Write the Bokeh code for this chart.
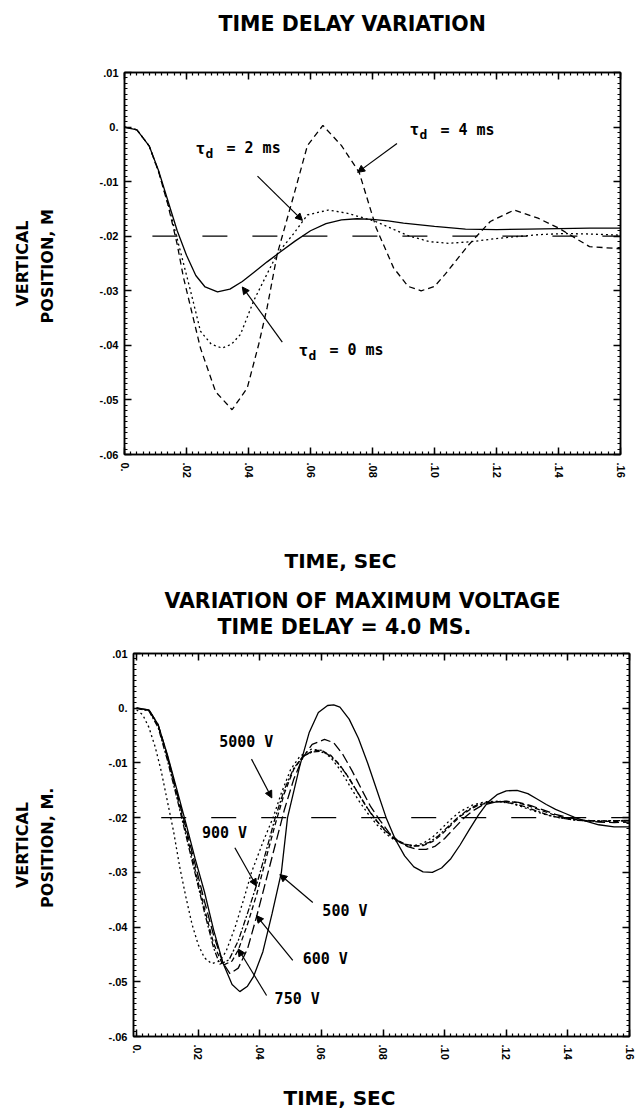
import math
from bokeh.plotting import figure
from bokeh.layouts import column
from bokeh.models import Range1d, FixedTicker, LinearAxis, Title, Label, Arrow, NormalHead
from bokeh.embed import file_html
from bokeh.resources import INLINE

# ---------------- top chart: time delay variation ----------------
td0_t = [0, 0.004, 0.008, 0.011, 0.014, 0.017, 0.020, 0.023, 0.026, 0.030, 0.034, 0.038,
         0.042, 0.046, 0.050, 0.055, 0.060, 0.065, 0.070, 0.075, 0.080, 0.085, 0.090, 0.100,
         0.110, 0.120, 0.130, 0.140, 0.150, 0.160]
td0_v = [0, -0.0005, -0.0035, -0.008, -0.0135, -0.019, -0.0235, -0.0272, -0.0293, -0.0302,
         -0.0297, -0.0283, -0.0265, -0.0247, -0.0230, -0.0209, -0.0190, -0.0177, -0.0170,
         -0.0168, -0.0169, -0.0172, -0.0176, -0.0182, -0.0187, -0.0188, -0.0187, -0.0186,
         -0.0185, -0.0185]

td2_t = [0, 0.004, 0.008, 0.011, 0.014, 0.017, 0.0213, 0.0245, 0.028, 0.0315, 0.0345, 0.0374,
         0.0417, 0.046, 0.0493, 0.0546, 0.059, 0.0657, 0.072, 0.081, 0.087, 0.092, 0.0985,
         0.1045, 0.112, 0.119, 0.126, 0.134, 0.142, 0.150, 0.160]
td2_v = [0, -0.0005, -0.0035, -0.0082, -0.0140, -0.0205, -0.0300, -0.0374, -0.0398, -0.0405,
         -0.0398, -0.0380, -0.0318, -0.0269, -0.0232, -0.0195, -0.0161, -0.0152, -0.0158,
         -0.0173, -0.0188, -0.0200, -0.0210, -0.0213, -0.0210, -0.0205, -0.0201, -0.0197,
         -0.0195, -0.0196, -0.0198]

td4_t = [0, 0.004, 0.008, 0.011, 0.014, 0.017, 0.019, 0.0245, 0.0294, 0.0347, 0.0396, 0.0433,
         0.046, 0.0493, 0.0546, 0.059, 0.064, 0.070, 0.0757, 0.0812, 0.0868, 0.0915, 0.0957,
         0.1, 0.1034, 0.111, 0.118, 0.1257, 0.1334, 0.140, 0.150, 0.160]
td4_v = [0, -0.0005, -0.0035, -0.0082, -0.0142, -0.0215, -0.0275, -0.0405, -0.0485, -0.0518,
         -0.0478, -0.0398, -0.0331, -0.0232, -0.0125, -0.0034, 0.0003, -0.0034, -0.0083,
         -0.0185, -0.0258, -0.0292, -0.0300, -0.0292, -0.0270, -0.0216, -0.0173, -0.0152,
         -0.0167, -0.0185, -0.0219, -0.0223]

ref_top_t = [0.009, 0.160]
ref_top_v = [-0.02, -0.02]

# ---------------- bottom chart: variation of maximum voltage ----------------
v500_t = [0, 0.004, 0.007, 0.010, 0.013, 0.016, 0.019, 0.022, 0.025, 0.028, 0.031, 0.0335,
          0.036, 0.038, 0.041, 0.044, 0.047, 0.049, 0.053, 0.056, 0.059, 0.062, 0.064, 0.066,
          0.069, 0.072, 0.075, 0.078, 0.081, 0.084, 0.087, 0.090, 0.093, 0.096, 0.099, 0.102,
          0.105, 0.108, 0.111, 0.114, 0.117, 0.120, 0.1235, 0.127, 0.130, 0.133, 0.136, 0.139,
          0.142, 0.145, 0.150, 0.155, 0.160]
v500_v = [0, -0.0003, -0.003, -0.0085, -0.0147, -0.021, -0.0275, -0.0335, -0.0405, -0.0465,
          -0.0505, -0.0518, -0.0508, -0.0490, -0.0445, -0.0375, -0.0300, -0.0200, -0.0105,
          -0.0045, -0.0008, 0.0005, 0.0006, 0.0002, -0.0020, -0.0055, -0.0100, -0.0150,
          -0.0200, -0.0240, -0.0270, -0.0290, -0.0299, -0.0300, -0.0292, -0.0275, -0.0250,
          -0.0222, -0.0195, -0.0172, -0.0158, -0.0151, -0.0150, -0.0156, -0.0166, -0.0176,
          -0.0185, -0.0192, -0.0199, -0.0205, -0.0213, -0.0217, -0.0217]

v600_t = [0, 0.004, 0.007, 0.010, 0.013, 0.016, 0.019, 0.022, 0.025, 0.028, 0.0303, 0.033,
          0.036, 0.039, 0.042, 0.045, 0.048, 0.051, 0.054, 0.057, 0.061, 0.064, 0.067, 0.070,
          0.073, 0.076, 0.079, 0.082, 0.085, 0.088, 0.091, 0.094, 0.097, 0.100, 0.103, 0.106,
          0.109, 0.112, 0.116, 0.120, 0.124, 0.128, 0.132, 0.136, 0.140, 0.145, 0.150, 0.155,
          0.160]
v600_v = [0, -0.0003, -0.003, -0.0087, -0.0152, -0.0218, -0.0285, -0.0352, -0.0415, -0.0465,
          -0.0485, -0.0475, -0.0440, -0.0380, -0.0315, -0.0250, -0.0185, -0.0130, -0.0090,
          -0.0066, -0.0057, -0.0063, -0.0085, -0.0115, -0.0148, -0.0180, -0.0205, -0.0228,
          -0.0243, -0.0253, -0.0258, -0.0258, -0.0252, -0.0238, -0.0220, -0.0202, -0.0188,
          -0.0178, -0.0172, -0.0170, -0.0172, -0.0178, -0.0186, -0.0194, -0.0200, -0.0205,
          -0.0208, -0.0209, -0.0208]

v750_t = [0, 0.004, 0.007, 0.010, 0.013, 0.016, 0.019, 0.022, 0.025, 0.028, 0.031, 0.033,
          0.036, 0.039, 0.042, 0.045, 0.048, 0.051, 0.054, 0.0575, 0.060, 0.063, 0.066, 0.069,
          0.072, 0.075, 0.078, 0.081, 0.084, 0.087, 0.090, 0.093, 0.096, 0.099, 0.102, 0.105,
          0.108, 0.111, 0.115, 0.119, 0.123, 0.127, 0.131, 0.135, 0.139, 0.144, 0.150, 0.155,
          0.160]
v750_v = [0, -0.0004, -0.0032, -0.009, -0.0157, -0.0225, -0.0295, -0.0365, -0.0430, -0.0470,
          -0.0462, -0.0442, -0.0395, -0.0340, -0.0275, -0.0212, -0.0155, -0.0112, -0.0088,
          -0.0077, -0.0077, -0.0086, -0.0104, -0.0128, -0.0156, -0.0183, -0.0206, -0.0225,
          -0.0239, -0.0248, -0.0252, -0.0251, -0.0244, -0.0231, -0.0214, -0.0198, -0.0186,
          -0.0177, -0.0172, -0.0170, -0.0172, -0.0178, -0.0186, -0.0194, -0.0200, -0.0205,
          -0.0207, -0.0207, -0.0206]

v900_t = [0, 0.004, 0.007, 0.010, 0.013, 0.016, 0.019, 0.022, 0.025, 0.027, 0.030, 0.033,
          0.036, 0.039, 0.042, 0.045, 0.048, 0.051, 0.054, 0.057, 0.0595, 0.062, 0.065, 0.068,
          0.071, 0.074, 0.077, 0.080, 0.083, 0.086, 0.089, 0.092, 0.095, 0.098, 0.101, 0.104,
          0.107, 0.110, 0.114, 0.118, 0.122, 0.126, 0.130, 0.134, 0.138, 0.143, 0.150, 0.160]
v900_v = [0, -0.0005, -0.0035, -0.0095, -0.0162, -0.0232, -0.0302, -0.0372, -0.0438, -0.0468,
          -0.0460, -0.0425, -0.0375, -0.0322, -0.0262, -0.0200, -0.0148, -0.0110, -0.0088,
          -0.0080, -0.0079, -0.0084, -0.0098, -0.0120, -0.0147, -0.0175, -0.0200, -0.0220,
          -0.0236, -0.0247, -0.0252, -0.0251, -0.0245, -0.0233, -0.0217, -0.0201, -0.0188,
          -0.0178, -0.0172, -0.0171, -0.0174, -0.0180, -0.0188, -0.0196, -0.0201, -0.0205,
          -0.0206, -0.0205]

v5000_t = [0, 0.002, 0.004, 0.006, 0.008, 0.010, 0.012, 0.014, 0.016, 0.018, 0.020, 0.022,
           0.0244, 0.027, 0.029, 0.032, 0.035, 0.0373, 0.041, 0.0443, 0.047, 0.050, 0.053,
           0.0567, 0.060, 0.063, 0.066, 0.069, 0.072, 0.075, 0.078, 0.081, 0.084, 0.087, 0.090,
           0.093, 0.096, 0.099, 0.102, 0.105, 0.109, 0.113, 0.117, 0.121, 0.125, 0.129, 0.133,
           0.137, 0.142, 0.150, 0.160]
v5000_v = [-0.0003, -0.0012, -0.0035, -0.007, -0.0115, -0.0170, -0.0225, -0.0290, -0.0345,
           -0.0395, -0.0432, -0.0456, -0.0467, -0.0462, -0.0445, -0.0400, -0.0345, -0.0300,
           -0.0245, -0.0200, -0.0155, -0.0112, -0.0088, -0.0075, -0.0077, -0.0090, -0.0112,
           -0.0140, -0.0168, -0.0192, -0.0213, -0.0230, -0.0242, -0.0249, -0.0251, -0.0247,
           -0.0236, -0.0220, -0.0203, -0.0189, -0.0177, -0.0171, -0.0170, -0.0173, -0.0180,
           -0.0188, -0.0195, -0.0200, -0.0204, -0.0206, -0.0205]

ref_bot_t = [0.008, 0.160]
ref_bot_v = [-0.02, -0.02]

# ---------------- ticks ----------------
x_major = [round(i * 0.02, 2) for i in range(9)]
x_minor = [round(i * 0.002, 3) for i in range(81)]
x_labels = ["0.", ".02", ".04", ".06", ".08", ".10", ".12", ".14", ".16"]
y_major = [round(0.01 - i * 0.01, 2) for i in range(8)]
y_minor = [round(0.01 - i * 0.001, 3) for i in range(71)]
y_labels = [".01", "0.", "-.01", "-.02", "-.03", "-.04", "-.05", "-.06"]

TITLE_FONT = "DejaVu Sans"
TICK_FONT = "Liberation Sans"
ANN_FONT = "DejaVu Sans Mono"


def base_figure(height, left, right, top, bottom, xstart):
    p = figure(width=636, height=height, output_backend="svg", toolbar_location=None,
               x_range=Range1d(xstart, 0.16), y_range=Range1d(-0.06, 0.01),
               min_border_left=left, min_border_right=right,
               min_border_top=top, min_border_bottom=bottom,
               x_axis_type=None, y_axis_type=None)
    p.frame_align = False
    p.grid.visible = False
    p.outline_line_color = "black"
    p.outline_line_width = 1.5
    p.background_fill_color = "white"
    p.border_fill_color = "white"
    return p


def make_title(text, offset, size="20.5px"):
    return Title(text=text, align="left", offset=offset, standoff=0,
                 vertical_align="bottom", text_font=TITLE_FONT, text_font_size=size,
                 text_font_style="bold", text_color="black")


def set_title(t, text, offset, size="20.5px"):
    t.text = text
    t.align = "left"
    t.offset = offset
    t.standoff = 0
    t.vertical_align = "bottom"
    t.text_font = TITLE_FONT
    t.text_font_size = size
    t.text_font_style = "bold"
    t.text_color = "black"


def spacer(p, loc, size):
    # invisible axis (one hidden tick) whose only role is to reserve panel space
    tick = 0.08
    p.add_layout(LinearAxis(ticker=FixedTicker(ticks=[tick]), major_tick_out=size,
                            major_tick_in=0, minor_tick_out=0, minor_tick_in=0,
                            major_label_standoff=0, major_label_overrides={tick: ""},
                            major_label_text_font_size="1px",
                            axis_line_color=None, major_tick_line_color=None,
                            minor_tick_line_color=None), loc)


def add_axes(p, ylabel_inner, ylabel_outer, y_standoff, outer_standoff):
    xt = FixedTicker(ticks=x_major, minor_ticks=x_minor)
    yt = FixedTicker(ticks=y_major, minor_ticks=y_minor)
    xo = {x_major[i]: x_labels[i] for i in range(len(x_major))}
    yo = {y_major[i]: y_labels[i] for i in range(len(y_major))}
    for loc, is_x, show in (("below", True, True), ("above", True, False),
                            ("left", False, True), ("right", False, False)):
        ax = LinearAxis(ticker=xt if is_x else yt)
        ax.axis_line_color = "black"
        ax.axis_line_width = 1.5
        ax.major_tick_in = 7
        ax.major_tick_out = 0
        ax.minor_tick_in = 3
        ax.minor_tick_out = 0
        ax.major_tick_line_color = "black"
        ax.minor_tick_line_color = "black"
        ax.major_tick_line_width = 1.5
        ax.minor_tick_line_width = 1.2
        if show:
            ax.major_label_overrides = xo if is_x else yo
            ax.major_label_text_font = TICK_FONT
            ax.major_label_text_font_size = "11px"
            ax.major_label_text_font_style = "bold"
            ax.major_label_text_color = "black"
            if is_x:
                ax.major_label_orientation = "vertical"
                ax.major_label_standoff = 8
            else:
                ax.major_label_standoff = 6
                ax.axis_label = ylabel_inner
                ax.axis_label_standoff = y_standoff
                ax.axis_label_text_font = TITLE_FONT
                ax.axis_label_text_font_size = "16px"
                ax.axis_label_text_font_style = "bold"
                ax.axis_label_text_color = "black"
        else:
            ax.major_label_overrides = {t: "" for t in (x_major if is_x else y_major)}
            ax.major_label_text_font_size = "1px"
            ax.major_label_standoff = 0
        p.add_layout(ax, loc)
    outer = LinearAxis(ticker=FixedTicker(ticks=[]), axis_label=ylabel_outer,
                       axis_line_color=None, major_tick_line_color=None,
                       minor_tick_line_color=None, major_tick_out=0, major_tick_in=0,
                       minor_tick_out=0, minor_tick_in=0, axis_label_standoff=outer_standoff,
                       major_label_standoff=0,
                       axis_label_text_font=TITLE_FONT, axis_label_text_font_size="16px",
                       axis_label_text_font_style="bold", axis_label_text_color="black")
    p.add_layout(outer, "left")


def annot(p, x, y, text, size="15px", xo=0, yo=0):
    p.add_layout(Label(x=x, y=y, text=text, x_offset=xo, y_offset=yo,
                       text_font=ANN_FONT, text_font_size=size, text_font_style="bold",
                       text_baseline="middle", text_align="left", text_color="black"))


def tau_label(p, x, y, num):
    annot(p, x, y, "\u03c4", "16px")
    annot(p, x, y, "d", "13px", xo=10, yo=-5)
    annot(p, x, y, "= " + num + " ms", "15px", xo=31)


def arrow(p, x0, y0, x1, y1):
    p.add_layout(Arrow(end=NormalHead(size=7, fill_color="black", line_color="black"),
                       x_start=x0, y_start=y0, x_end=x1, y_end=y1,
                       line_color="black", line_width=1.2))


# ---------------- top figure ----------------
top = base_figure(578, 124, 16, 72, 124, 0.0)
add_axes(top, "POSITION,  M", "VERTICAL", 40, 3)
spacer(top, "above", 37)
set_title(top.title, "TIME  DELAY  VARIATION", 94)
spacer(top, "below", 66)
top.add_layout(make_title("TIME,  SEC", 160, "20px"), "below")

top.line(ref_top_t, ref_top_v, line_color="black", line_width=1.3, line_dash="25 25")
top.line(td0_t, td0_v, line_color="black", line_width=1.3)
top.line(td2_t, td2_v, line_color="black", line_width=1.3, line_dash="2 3")
top.line(td4_t, td4_v, line_color="black", line_width=1.3, line_dash="6 4")

tau_label(top, 0.0229, -0.0039, "2")
tau_label(top, 0.0919, -0.0005, "4")
tau_label(top, 0.0561, -0.0409, "0")
arrow(top, 0.0429, -0.0090, 0.0574, -0.0171)
arrow(top, 0.0879, -0.0030, 0.0752, -0.0083)
arrow(top, 0.0509, -0.0394, 0.0380, -0.0293)

# ---------------- bottom figure ----------------
bot = base_figure(531, 133, 7, 75, 71, -0.001)
add_axes(bot, "POSITION,  M.", "VERTICAL", 49, 3)
spacer(bot, "above", 15)
bot.add_layout(make_title("TIME DELAY = 4.0 MS.", 84), "above")
set_title(bot.title, "VARIATION  OF  MAXIMUM  VOLTAGE", 31)
spacer(bot, "below", 21)
bot.add_layout(make_title("TIME,  SEC", 150, "20px"), "below")

bot.line(ref_bot_t, ref_bot_v, line_color="black", line_width=1.3, line_dash="25 25")
bot.line(v500_t, v500_v, line_color="black", line_width=1.3)
bot.line(v600_t, v600_v, line_color="black", line_width=1.3, line_dash="10 4")
bot.line(v750_t, v750_v, line_color="black", line_width=1.3, line_dash="5 3")
bot.line(v900_t, v900_v, line_color="black", line_width=1.3, line_dash="6 2 2 2")
bot.line(v5000_t, v5000_v, line_color="black", line_width=1.3, line_dash="2 3")

annot(bot, 0.0268, -0.0062, "5000 V")
annot(bot, 0.0212, -0.0228, "900 V")
annot(bot, 0.0603, -0.0370, "500 V")
annot(bot, 0.0539, -0.0458, "600 V")
annot(bot, 0.0448, -0.0531, "750 V")
arrow(bot, 0.0373, -0.0093, 0.0439, -0.0164)
arrow(bot, 0.0319, -0.0255, 0.0389, -0.0325)
arrow(bot, 0.0572, -0.0355, 0.0465, -0.0304)
arrow(bot, 0.0507, -0.0461, 0.0389, -0.0379)
arrow(bot, 0.0422, -0.0525, 0.0330, -0.0440)

layout = column(top, bot, spacing=0)
open("out.html", "w").write(file_html(layout, INLINE))
